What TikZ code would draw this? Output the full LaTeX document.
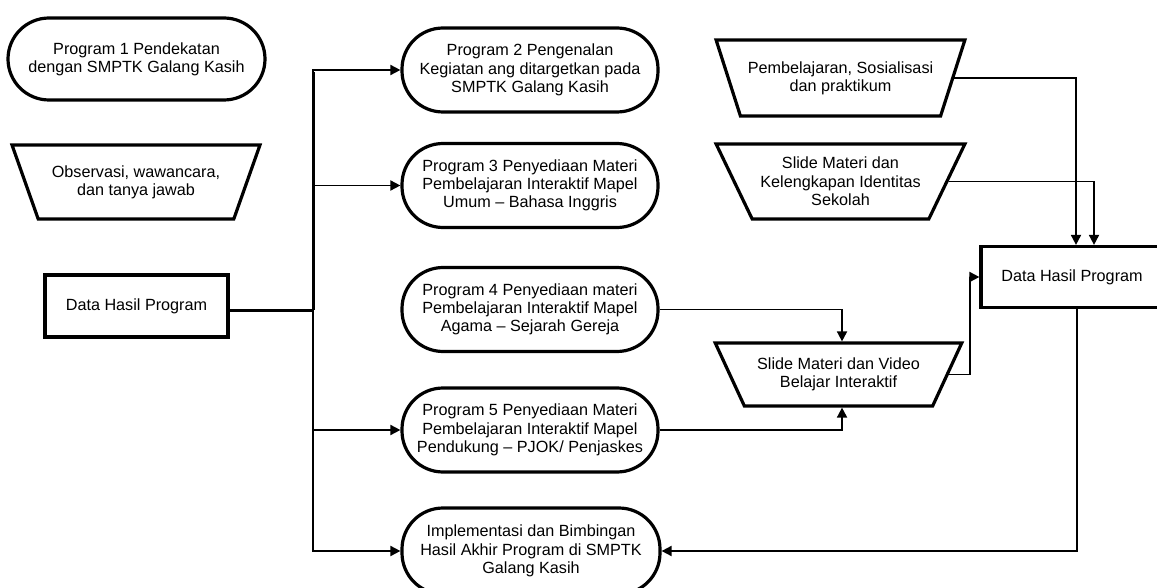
\documentclass[tikz,border=0pt]{standalone}
\usepackage{fontspec}
\setmainfont{Liberation Sans}
\usetikzlibrary{shapes.geometric,arrows.meta}
\begin{document}
\begin{tikzpicture}[x=1pt,y=-1pt,
    every node/.style={font=\fontsize{16.2}{18.3}\selectfont,align=center,inner sep=0pt},
    term/.style={draw,line width=3.2pt,rectangle,rounded corners=41pt,minimum width=256pt,minimum height=84pt},
    datain/.style={draw,line width=3.2pt,trapezium,shape border rotate=180,trapezium angle=56,
      trapezium stretches=true,minimum width=249pt,minimum height=75pt},
    databox/.style={draw,line width=3.2pt,rectangle,minimum width=182pt,minimum height=61pt},
    arr/.style={line width=1.8pt,-{Triangle[length=10pt,width=10pt]}}]
  \useasboundingbox (0,0) rectangle (1157,588);
  % left column
  \node[term,minimum width=257pt,minimum height=82pt] (p1) at (136.5,59) {Program 1 Pendekatan\\dengan SMPTK Galang Kasih};
  \node[datain,minimum width=248pt,minimum height=74pt] (obs) at (136,182) {Observasi, wawancara,\\dan tanya jawab};
  \node[databox,minimum width=183pt,minimum height=62pt] (dhl) at (136.5,306) {Data Hasil Program};
  % programs
  \node[term] (p2) at (530,70) {Program 2 Pengenalan\\Kegiatan ang ditargetkan pada\\SMPTK Galang Kasih};
  \node[term] (p3) at (530,185.5) {Program 3 Penyediaan Materi\\Pembelajaran Interaktif Mapel\\Umum -- Bahasa Inggris};
  \node[term] (p4) at (530,309.5) {Program 4 Penyediaan materi\\Pembelajaran Interaktif Mapel\\Agama -- Sejarah Gereja};
  \node[term] (p5) at (530,430) {Program 5 Penyediaan Materi\\Pembelajaran Interaktif Mapel\\Pendukung -- PJOK/ Penjaskes};
  \node[term,minimum width=258pt,minimum height=86pt] (impl) at (531,551) {Implementasi dan Bimbingan\\Hasil Akhir Program di SMPTK\\Galang Kasih};
  % right column
  \node[datain,minimum height=76pt] (pemb) at (840.5,78) {Pembelajaran, Sosialisasi\\dan praktikum};
  \node[datain] (slide) at (840.5,181.5) {Slide Materi dan\\Kelengkapan Identitas\\Sekolah};
  \node[datain,minimum width=247pt,minimum height=63pt,trapezium angle=53] (video) at (838.5,374.5) {Slide Materi dan Video\\Belajar Interaktif};
  \node[databox] (dhr) at (1072,277) {Data Hasil Program};
  % connectors
  \coordinate (jn) at (313,310);
  \draw[line width=3pt] (dhl.east |- jn) -- (jn);
  \draw[line width=3pt] (jn) -- (313,72);
  \draw[arr] (jn) |- (p2.west);
  \draw[arr] (jn) |- (p3.west);
  \draw[arr] (jn) |- (p5.west);
  \draw[arr] (jn) |- (impl.west);
  \draw[arr] (p4.east) -| ([xshift=3.5pt]video.north);
  \draw[arr] (p5.east) -| ([xshift=3.5pt]video.south);
  \draw[arr] (video.east) -- ++(21,0) |- (dhr.west);
  \draw[arr] (pemb.east) -| ([xshift=4pt]dhr.north);
  \draw[arr] (slide.east) -| ([xshift=22pt]dhr.north);
  \draw[arr] ([xshift=5pt]dhr.south) |- (impl.east);
\end{tikzpicture}
\end{document}
